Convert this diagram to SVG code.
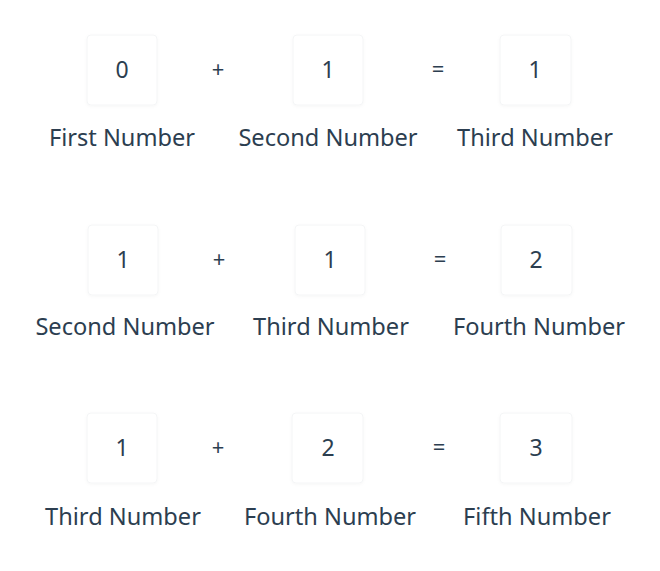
<svg xmlns="http://www.w3.org/2000/svg" width="660" height="571" viewBox="0 0 660 571">
<style>
.box{fill:#ffffff;stroke:#f4f5f6;stroke-width:1}
.t{font-family:"Noto Sans","DejaVu Sans",sans-serif;fill:#2c3e50;text-anchor:middle}
.n{font-size:23px}
.l{font-size:23.6px}
.op{font-size:22px}
</style>
<defs>
<filter id="sh" x="-20%" y="-20%" width="140%" height="140%">
<feDropShadow dx="0" dy="1" stdDeviation="1.5" flood-color="#000" flood-opacity="0.035"/>
</filter>
</defs>
<rect width="660" height="571" fill="#ffffff"/>
<g id="row1">
<g id="r1-first"><rect class="box" filter="url(#sh)" x="87" y="35" width="70" height="70" rx="4"/><text class="t n" x="122" y="78">0</text><text class="t l" x="122" y="146">First Number</text></g>
<text class="t op" x="218" y="77">+</text>
<g id="r1-second"><rect class="box" filter="url(#sh)" x="293" y="35" width="70" height="70" rx="4"/><text class="t n" x="328" y="78">1</text><text class="t l" x="328" y="146">Second Number</text></g>
<text class="t op" x="438" y="77">=</text>
<g id="r1-third"><rect class="box" filter="url(#sh)" x="500" y="35" width="71" height="70" rx="4"/><text class="t n" x="535" y="78">1</text><text class="t l" x="535" y="146">Third Number</text></g>
</g>
<g id="row2">
<g id="r2-first"><rect class="box" filter="url(#sh)" x="88" y="225" width="70" height="70" rx="4"/><text class="t n" x="123" y="268">1</text><text class="t l" x="125" y="335">Second Number</text></g>
<text class="t op" x="219" y="267">+</text>
<g id="r2-second"><rect class="box" filter="url(#sh)" x="295" y="225" width="70" height="70" rx="4"/><text class="t n" x="330" y="268">1</text><text class="t l" x="331" y="335">Third Number</text></g>
<text class="t op" x="440" y="267">=</text>
<g id="r2-third"><rect class="box" filter="url(#sh)" x="501" y="225" width="71" height="70" rx="4"/><text class="t n" x="536" y="268">2</text><text class="t l" x="539" y="335">Fourth Number</text></g>
</g>
<g id="row3">
<g id="r3-first"><rect class="box" filter="url(#sh)" x="87" y="413" width="70" height="70" rx="4"/><text class="t n" x="122" y="456">1</text><text class="t l" x="123" y="525">Third Number</text></g>
<text class="t op" x="218" y="455">+</text>
<g id="r3-second"><rect class="box" filter="url(#sh)" x="292" y="413" width="71" height="70" rx="4"/><text class="t n" x="328" y="456">2</text><text class="t l" x="330" y="525">Fourth Number</text></g>
<text class="t op" x="439" y="455">=</text>
<g id="r3-third"><rect class="box" filter="url(#sh)" x="500" y="413" width="72" height="70" rx="4"/><text class="t n" x="536" y="456">3</text><text class="t l" x="537" y="525">Fifth Number</text></g>
</g>
</svg>
